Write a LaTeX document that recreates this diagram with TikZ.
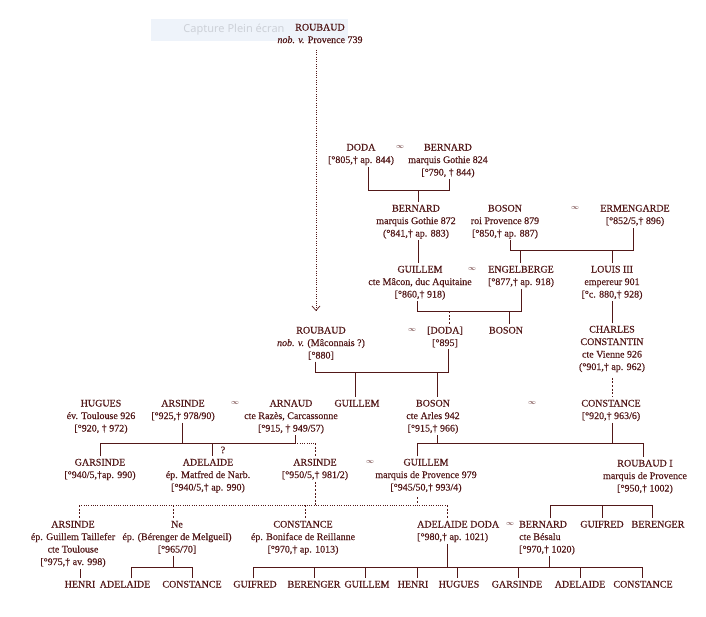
\documentclass[tikz,border=0pt]{standalone}
\usepackage{fontspec}
\setmainfont{Liberation Serif}
\newfontfamily\pfam{Liberation Serif}[FakeBold=0.35]
\newfontfamily\capfam{Noto Sans}
\usetikzlibrary{arrows.meta}
\definecolor{ink}{RGB}{82,24,24}
\definecolor{capbg}{RGB}{238,243,250}
\definecolor{capgray}{RGB}{205,209,216}
\newcommand\pfont{\pfam\fontsize{10}{12.5}\selectfont}
\newcommand\pers[4]{\node[person] (#1) at (#2,#3) {\rule{0pt}{7.5pt}#4};}
\newcommand\persL[4]{\node[personL] (#1) at (#2,#3) {\rule{0pt}{7.5pt}#4};}
\tikzset{
  person/.style={anchor=north, yshift=5.7pt, inner xsep=0pt, inner ysep=1.5pt,
    align=center, text=ink, font=\pfont},
  personL/.style={person, anchor=north west, align=left},
  marr/.style={inner sep=0pt, text=ink, font=\fontsize{7.5}{8}\selectfont},
  conn/.style={draw=ink, line width=0.75pt},
  dashconn/.style={conn, dash pattern=on 2pt off 1.6pt},
  dotconn/.style={conn, line width=0.65pt, dash pattern=on 0.7pt off 1.6pt},
}
\begin{document}
\begin{tikzpicture}[x=1pt,y=-1pt]
\useasboundingbox (0,0) rectangle (706,616);
\fill[white] (0,0) rectangle (706,616);
% screen capture overlay
\fill[capbg] (151,19) rectangle (348,41);
\node[text=capgray, font=\capfam\fontsize{11}{13}\selectfont, inner sep=0pt] (cap) at (234,30) {Capture Plein écran};

% generation 0
\pers{roubaudA}{320}{27}{ROUBAUD\\\textit{nob. v.} Provence 739}
% generation 1
\pers{dodaA}{361}{147}{DODA\\{[}°805,† ap. 844)}
\node[marr] (m1) at (400,147) {$\infty$};
\pers{bernardA}{448}{147}{BERNARD\\marquis Gothie 824\\{[}°790, † 844)}
% generation 2
\pers{bernardB}{416}{208}{BERNARD\\marquis Gothie 872\\(°841,† ap. 883)}
\pers{bosonA}{505}{208}{BOSON\\roi Provence 879\\{[}°850,† ap. 887)}
\node[marr] (m2) at (575,208) {$\infty$};
\pers{ermengarde}{635}{208}{ERMENGARDE\\{[}°852/5,† 896)}
% generation 3
\pers{guillemA}{420}{269}{GUILLEM\\cte Mâcon, duc Aquitaine\\{[}°860,† 918)}
\node[marr] (m3) at (472,269) {$\infty$};
\pers{engelberge}{521}{269}{ENGELBERGE\\{[}°877,† ap. 918)}
\pers{louis}{612}{269}{LOUIS III\\empereur 901\\{[}°c. 880,† 928)}
% generation 4
\pers{roubaudB}{321}{330}{ROUBAUD\\\textit{nob. v.} (Mâconnais ?)\\{[}°880]}
\node[marr] (m4) at (412,330) {$\infty$};
\pers{dodaB}{445}{330}{{[}DODA]\\{[}°895]}
\pers{bosonB}{506}{330}{BOSON}
\pers{charles}{612}{329}{CHARLES\\CONSTANTIN\\cte Vienne 926\\(°901,† ap. 962)}
% generation 5
\pers{hugues}{101}{403}{HUGUES\\év. Toulouse 926\\{[}°920, † 972)}
\pers{arsindeA}{183}{403}{ARSINDE\\{[}°925,† 978/90)}
\node[marr] (m5) at (235,403) {$\infty$};
\pers{arnaud}{291}{403}{ARNAUD\\cte Razès, Carcassonne\\{[}°915, † 949/57)}
\pers{guillemB}{357}{403}{GUILLEM}
\pers{bosonC}{433}{403}{BOSON\\cte Arles 942\\{[}°915,† 966)}
\node[marr] (m6) at (532,403) {$\infty$};
\pers{constanceA}{611}{403}{CONSTANCE\\{[}°920,† 963/6)}
% generation 6
\pers{garsinde}{100}{462}{GARSINDE\\{[}°940/5,†ap. 990)}
\pers{adelaideA}{208}{462}{ADELAIDE\\ép. Matfred de Narb.\\{[}°940/5,† ap. 990)}
\node[marr, font=\pfont] (q1) at (223,450) {?};
\pers{arsindeB}{315}{462}{ARSINDE\\{[}°950/5,† 981/2)}
\node[marr] (m7) at (370,462) {$\infty$};
\pers{guillemC}{426}{462}{GUILLEM\\marquis de Provence 979\\{[}°945/50,† 993/4)}
\pers{roubaudC}{645}{463}{ROUBAUD I\\marquis de Provence\\{[}°950,† 1002)}
% generation 7
\pers{arsindeC}{73}{524}{ARSINDE\\ép. Guillem Taillefer\\cte Toulouse\\{[}°975,† av. 998)}
\pers{ne}{177}{524}{Ne\\ép. (Bérenger de Melgueil)\\{[}°965/70]}
\pers{constanceB}{303}{524}{CONSTANCE\\ép. Boniface de Reillanne\\{[}°970,† ap. 1013)}
\persL{adelaideB}{417}{524}{ADELAIDE DODA\\{[}°980,† ap. 1021)}
\node[marr] (m8) at (510,524) {$\infty$};
\persL{bernardC}{519}{524}{BERNARD\\cte Bésalu\\{[}°970,† 1020)}
\pers{guifredA}{602}{524}{GUIFRED}
\pers{berengerA}{658}{524}{BERENGER}
% generation 8
\pers{henriA}{80}{584}{HENRI}
\pers{adelaideC}{125}{584}{ADELAIDE}
\pers{constanceC}{192}{584}{CONSTANCE}
\pers{guifredB}{255}{584}{GUIFRED}
\pers{berengerB}{314}{584}{BERENGER}
\pers{guillemD}{367}{584}{GUILLEM}
\pers{henriB}{413}{584}{HENRI}
\pers{huguesB}{459}{584}{HUGUES}
\pers{garsindeB}{517}{584}{GARSINDE}
\pers{adelaideD}{580}{584}{ADELAIDE}
\pers{constanceD}{643}{584}{CONSTANCE}

% ---- connectors ----
\coordinate (tip) at (316,311);
\draw[dotconn, shorten <=5pt, -{Straight Barb[length=4.5pt,width=8pt,line width=0.7pt]}] (316,0 |- roubaudA.south) -- (tip);
% Doda + Bernard
\draw[conn] (368,0 |- dodaA.south) |- (449,190) -- (449,0 |- bernardA.south);
\draw[conn] (418,190) -- (418,0 |- bernardB.north);
% Boson + Ermengarde
\draw[conn] (510,0 |- bosonA.south) |- (633,250) -- (633,0 |- ermengarde.south);
\draw[conn] (520,250) -- (520,0 |- engelberge.north);
\draw[conn] (612,250) -- (612,0 |- louis.north);
% Bernard -> Guillem
\draw[conn] (418,0 |- bernardB.south) -- (418,0 |- guillemA.north);
% Guillem + Engelberge
\draw[conn] (417,0 |- guillemA.south) |- (521,311) -- (521,0 |- engelberge.south);
\draw[dashconn] (449,311) -- (449,0 |- dodaB.north);
\draw[conn] (509,311) -- (509,0 |- bosonB.north);
% Louis -> Charles
\draw[conn] (612,0 |- louis.south) -- (612,0 |- charles.north);
% Roubaud + Doda
\draw[conn] (315,0 |- roubaudB.south) |- (448,372) -- (448,0 |- dodaB.south);
\draw[conn] (355,372) -- (355,0 |- guillemB.north);
\draw[conn] (437,372) -- (437,0 |- bosonC.north);
% Charles -> Constance
\draw[dashconn, shorten <=4pt] (612,0 |- charles.south) -- (612,0 |- constanceA.north);
% Arsinde + Arnaud
\draw[conn] (182,0 |- arsindeA.south) -- (182,443);
\draw[conn] (295,0 |- arnaud.south) -- (295,443);
\draw[conn] (100,0 |- garsinde.north) |- (295,443);
\draw[dotconn] (295,443) -- (315,443);
\draw[conn] (212,443) -- (212,0 |- adelaideA.north);
\draw[dashconn] (315,443) -- (315,0 |- arsindeB.north);
% Boson + Constance
\draw[conn] (437,0 |- bosonC.south) -- (437,443);
\draw[conn] (612,0 |- constanceA.south) -- (612,443);
\draw[conn] (417,0 |- guillemC.north) |- (643,443) -- (643,0 |- roubaudC.north);
% Arsinde + Guillem
\draw[dashconn] (315,0 |- arsindeB.south) -- (315,505);
\draw[dashconn, shorten <=3pt] (417,0 |- guillemC.south) -- (417,505);
\draw[dotconn] (79,505) -- (447,505);
\draw[dashconn] (79,505) -- (79,0 |- arsindeC.north);
\draw[dashconn] (173,505) -- (173,0 |- ne.north);
\draw[dashconn] (305,505) -- (305,0 |- constanceB.north);
\draw[dashconn] (447,505) -- (447,0 |- adelaideB.north);
% Roubaud I -> children
\draw[conn] (550,0 |- bernardC.north) |- (652,505) -- (652,0 |- berengerA.north);
\draw[conn] (602,505) -- (602,0 |- guifredA.north);
% Arsinde -> Henri
\draw[conn] (80,0 |- arsindeC.south) -- (80,0 |- henriA.north);
% Ne -> children
\draw[conn] (173,0 |- ne.south) -- (173,567);
\draw[conn] (131,0 |- adelaideC.north) |- (192,567) -- (192,0 |- constanceC.north);
% Adelaide Doda + Bernard (and Constance) -> children
\draw[conn] (447,0 |- adelaideB.south) -- (447,567);
\draw[conn] (549,0 |- bernardC.south) -- (549,567);
\draw[conn] (253,0 |- guifredB.north) |- (642,567) -- (642,0 |- constanceD.north);
\draw[conn] (314,567) -- (314,0 |- berengerB.north);
\draw[conn] (365,567) -- (365,0 |- guillemD.north);
\draw[conn] (417,567) -- (417,0 |- henriB.north);
\draw[conn] (457,567) -- (457,0 |- huguesB.north);
\draw[conn] (518,567) -- (518,0 |- garsindeB.north);
\draw[conn] (580,567) -- (580,0 |- adelaideD.north);
\end{tikzpicture}
\end{document}
